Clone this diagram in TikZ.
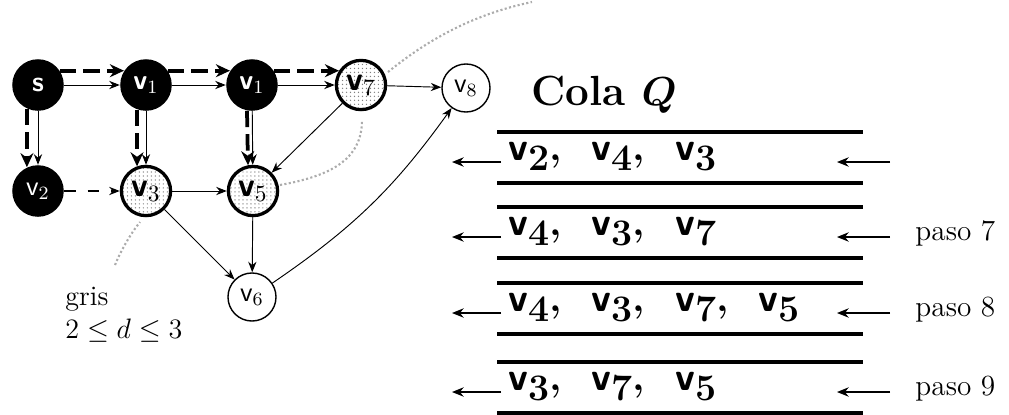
\documentclass[tikz,border=0pt]{standalone}
\usepackage{amsmath,amssymb}
\usetikzlibrary{arrows.meta,patterns.meta}
\tikzset{>=Stealth,
  nodonegro/.style={circle,fill=black,text=white,minimum size=22pt,inner sep=0pt,font=\sffamily\bfseries\large},
  nodogris/.style={circle,draw,line width=1.4pt,minimum size=21pt,inner sep=0pt,preaction={fill=white},
    pattern={Dots[distance=1.7pt,radius=.3pt]},pattern color=gray,font=\sffamily\bfseries\Large},
  nodoblanco/.style={circle,draw,semithick,minimum size=20.5pt,inner sep=0pt,font=\sffamily\large},
  arista/.style={->,>={Stealth[length=4.5pt,width=3.5pt]}},
  arbol/.style={->,line width=1.6pt,dash pattern=on 7pt off 3pt,>={Stealth[length=6pt,width=5.5pt]}},
  frontera/.style={gray!65,line width=.9pt,densely dotted},
  linea/.style={line width=1.7pt},
  flecha/.style={->,semithick,>={Stealth[length=5pt,width=4pt]}},
  texto/.style={inner sep=0pt,anchor=base west}}
\newcommand{\qv}[1]{{\sffamily\bfseries v}\raisebox{-4.6pt}{\fontsize{16}{17}\selectfont\bfseries #1}}

\begin{document}
\begin{tikzpicture}[x=0.015cm,y=-0.015cm]
\useasboundingbox (0,0) rectangle (1009,415);
% grafo
\node[nodonegro] (s) at (38,85) {s};\node[nodonegro] (v1) at (146,85) {v$_1$};\node[nodonegro] (v1b) at (252,85) {v$_1$};
\node[nodogris] (v7) at (361,85) {v$_7$};\node[nodoblanco] (v8) at (466,88) {v$_8$};
\node[nodonegro,font=\sffamily\large] (v2) at (38,191) {v$_2$};\node[nodogris] (v3) at (146,191) {v$_3$};\node[nodogris] (v5) at (253,191) {v$_5$};
\node[nodoblanco] (v6) at (252,297) {v$_6$};
\draw[arista] (s)--(v1);\draw[arista] (v1)--(v1b);\draw[arista] (v1b)--(v7);\draw[arista] (v7)--(v8);
\draw[arista] (s)--(v2);\draw[arista] (v1)--(v3);\draw[arista] (v1b)--(v5);
\draw[arista,semithick,dash pattern=on 5pt off 5pt] (v2)--(v3);\draw[arista] (v3)--(v5);
\draw[arista] (v7)--(v5);\draw[arista] (v3)--(v6);\draw[arista] (v5)--(v6);\draw[arista] (v6) to[bend right=10] (v8);
% arbol BFS
\draw[arbol] (s.33)--(v1.147);\draw[arbol] (v1.33)--(v1b.147);\draw[arbol] (v1b.33)--(v7.147);
\draw[arbol] (s.245)--(v2.115);\draw[arbol] (v1.250)--(v3.110);\draw[arbol] (v1b.259)--(v5.101);
% frontera gris
\draw[frontera] (115,265) .. controls (122,248) and (132,232) .. (140,222);
\draw[frontera] (280,185) .. controls (330,176) and (362,160) .. (362,120);
\draw[frontera] (388,72) .. controls (425,42) and (470,15) .. (532,2);
\node[texto,font=\fontsize{12}{14}\selectfont] (gris) at (65,305) {gris};
\node[texto,font=\fontsize{12.5}{14}\selectfont] (cota) at (65,338) {$2\leq d\leq 3$};
% cola
\node[texto,font=\fontsize{18}{21}\selectfont\bfseries] (cola) at (531,105) {Cola $\boldsymbol{Q}$};
\node[texto,inner sep=3pt,font=\fontsize{17}{20}\selectfont\bfseries] (fila1) at (501,160) {\qv{2},\ \ \qv{4},\ \ \qv{3}};
\node[texto,inner sep=3pt,font=\fontsize{17}{20}\selectfont\bfseries] (fila2) at (501,235) {\qv{4},\ \ \qv{3},\ \ \qv{7}};
\node[texto,inner sep=3pt,font=\fontsize{17}{20}\selectfont\bfseries] (fila3) at (501,311) {\qv{4},\ \ \qv{3},\ \ \qv{7},\ \ \qv{5}};
\node[texto,inner sep=3pt,font=\fontsize{17}{20}\selectfont\bfseries] (fila4) at (501,390) {\qv{3},\ \ \qv{7},\ \ \qv{5}};
\foreach \y/\n in {162/1,237/2,313/3,392/4}{
  \draw[linea] (497,\y-30)--(863,\y-30);\draw[linea] (497,\y+21)--(863,\y+21);
  \coordinate (sal\n) at (452,\y);\coordinate (ent\n) at (890,\y);
  \draw[flecha] (fila\n.west|-sal\n)--(sal\n);\draw[flecha] (ent\n)--++(-53,0);}
\node[texto,font=\fontsize{12.5}{14}\selectfont] (paso7) at (915,240) {paso 7};
\node[texto,font=\fontsize{12.5}{14}\selectfont] (paso8) at (915,316) {paso 8};
\node[texto,font=\fontsize{12.5}{14}\selectfont] (paso9) at (915,395) {paso 9};
\end{tikzpicture}
\end{document}
